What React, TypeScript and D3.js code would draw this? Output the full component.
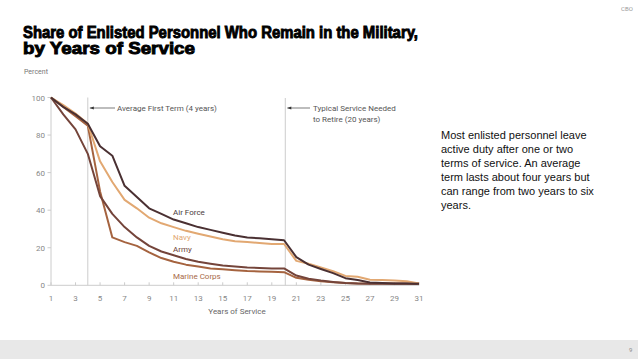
import React from "react";
import * as d3 from "d3";

const years = d3.range(1, 32);
const airForce = [100, 95, 91, 86, 74, 69, 53, 47, 41, 38, 35, 33, 31, 29.5, 28, 26.5, 25.5, 25, 24.5, 24, 15, 11, 8.7, 6.5, 3.8, 2.8, 1.5, 1.2, 1, 1, 0.8];
const navy = [100, 96, 91.5, 86, 66, 55, 45.5, 41, 36, 33, 31, 29, 27.5, 26, 24.5, 23.5, 23, 22.5, 22, 22, 13, 11.5, 9.5, 7.5, 5, 4.5, 3, 2.8, 2.6, 2.2, 1];
const army = [100, 91, 83, 70, 47.5, 38, 31, 25.5, 21, 18, 16, 14, 12.5, 11.5, 10.5, 10, 9.5, 9.2, 9, 9, 5.2, 3.5, 2.5, 1.8, 1.2, 0.9, 0.8, 0.8, 0.8, 0.8, 0.7];
const marines = [100, 95, 90, 85, 50, 25.5, 23, 21, 17.5, 14.5, 12.5, 11, 10, 9, 8.5, 8, 7.6, 7.4, 7.2, 7, 4, 3, 2.2, 1.6, 1.2, 1, 1, 1, 1, 1, 1];
const xTicks = d3.range(1, 32, 2);
const yTicks = [0, 20, 40, 60, 80, 100];
const noteLines = [
  "Most enlisted personnel leave",
  "active duty after one or two",
  "terms of service. An average",
  "term lasts about four years but",
  "can range from two years to six",
  "years.",
];

const series = [
  { name: "Marine Corps", values: marines, color: "#a5633f", labelColor: "#a86a48", labelValue: 5 },
  { name: "Army", values: army, color: "#74443a", labelColor: "#6e4438", labelValue: 19.3 },
  { name: "Navy", values: navy, color: "#e2a872", labelColor: "#e2a872", labelValue: 25.7 },
  { name: "Air Force", values: airForce, color: "#4a3032", labelColor: "#4a3a3a", labelValue: 39 },
];

export default function App() {
  const W = 638, H = 359;
  const x = d3.scaleLinear().domain([1, 31]).range([51, 419]);
  const y = d3.scaleLinear().domain([0, 100]).range([285.3, 97.5]);
  const line = d3.line<number>().x((_, i) => x(years[i])).y((v) => y(v));
  const font = "Roboto, 'Open Sans', 'Liberation Sans', sans-serif";
  return (
    <svg width={W} height={H} style={{ position: "absolute", left: 0, top: 0, background: "#fff" }}>
      <rect x={0} y={340} width={W} height={19} fill="#e8e8e8" />
      <text x={629} y={352} fontSize={6} fill="#888" fontFamily={font}>9</text>
      <text x={621} y={11} fontSize={6} fill="#999" fontFamily={font}>CBO</text>
      <text fontFamily="'Liberation Sans', Arial, sans-serif" fontWeight="bold" fontSize={16} fill="#000" stroke="#000" strokeWidth={0.9}>
        <tspan x={23} y={37.5} textLength={395} lengthAdjust="spacingAndGlyphs">Share of Enlisted Personnel Who Remain in the Military,</tspan>
        <tspan x={23} y={53.5} textLength={172} lengthAdjust="spacingAndGlyphs">by Years of Service</tspan>
      </text>
      <text x={24} y={74} fontSize={7} fill="#777" fontFamily={font}>Percent</text>

      <line x1={x(1)} x2={x(1)} y1={y(100)} y2={y(0)} stroke="#ccc" strokeWidth={1} />
      <line x1={x(1)} x2={x(31)} y1={y(0)} y2={y(0)} stroke="#ccc" strokeWidth={1} />
      {yTicks.map((t) => (
        <g key={t}>
          <line x1={x(1) - 3.5} x2={x(1)} y1={y(t)} y2={y(t)} stroke="#ccc" />
          <text x={45} y={y(t) + 3} fontSize={8} textAnchor="end" fill="#888" fontFamily={font}>{t}</text>
        </g>
      ))}
      {xTicks.map((t) => (
        <g key={t}>
          <line x1={x(t)} x2={x(t)} y1={y(0) - 3} y2={y(0)} stroke="#ccc" />
          <text x={x(t)} y={301} fontSize={8} textAnchor="middle" fill="#888" fontFamily={font}>{t}</text>
        </g>
      ))}
      <text x={237} y={314} fontSize={8} textAnchor="middle" fill="#666" fontFamily={font}>Years of Service</text>

      <line x1={x(4)} x2={x(4)} y1={y(100)} y2={y(0)} stroke="#ccc" />
      <line x1={x(20.1)} x2={x(20.1)} y1={98} y2={y(0)} stroke="#ccc" />
      <line x1={x(4) + 2} x2={115} y1={108} y2={108} stroke="#444" strokeWidth={0.7} />
      <path d={`M${x(4) + 2},108 l4,-1.6 l0,3.2 z`} fill="#333" />
      <text x={117} y={111} fontSize={8} fill="#555" fontFamily={font}>Average First Term (4 years)</text>
      <line x1={x(20.1) + 2} x2={310} y1={108} y2={108} stroke="#444" strokeWidth={0.7} />
      <path d={`M${x(20.1) + 2},108 l4,-1.6 l0,3.2 z`} fill="#333" />
      <text fontSize={8} fill="#555" fontFamily={font}>
        <tspan x={313} y={111}>Typical Service Needed</tspan>
        <tspan x={313} y={122}>to Retire (20 years)</tspan>
      </text>

      {series.map((s) => (
        <path key={s.name} d={line(s.values) || ""} fill="none" stroke={s.color} strokeWidth={2} strokeLinejoin="round" />
      ))}
      {series.map((s) => (
        <text key={s.name + "l"} x={173} y={y(s.labelValue) + 3} fontSize={8} fill={s.labelColor} fontFamily={font}>{s.name}</text>
      ))}

      <text fontSize={11} fill="#111" fontFamily="'Liberation Sans', Arial, sans-serif">
        {noteLines.map((l, i) => (
          <tspan key={i} x={441} y={139 + i * 14}>{l}</tspan>
        ))}
      </text>
    </svg>
  );
}
